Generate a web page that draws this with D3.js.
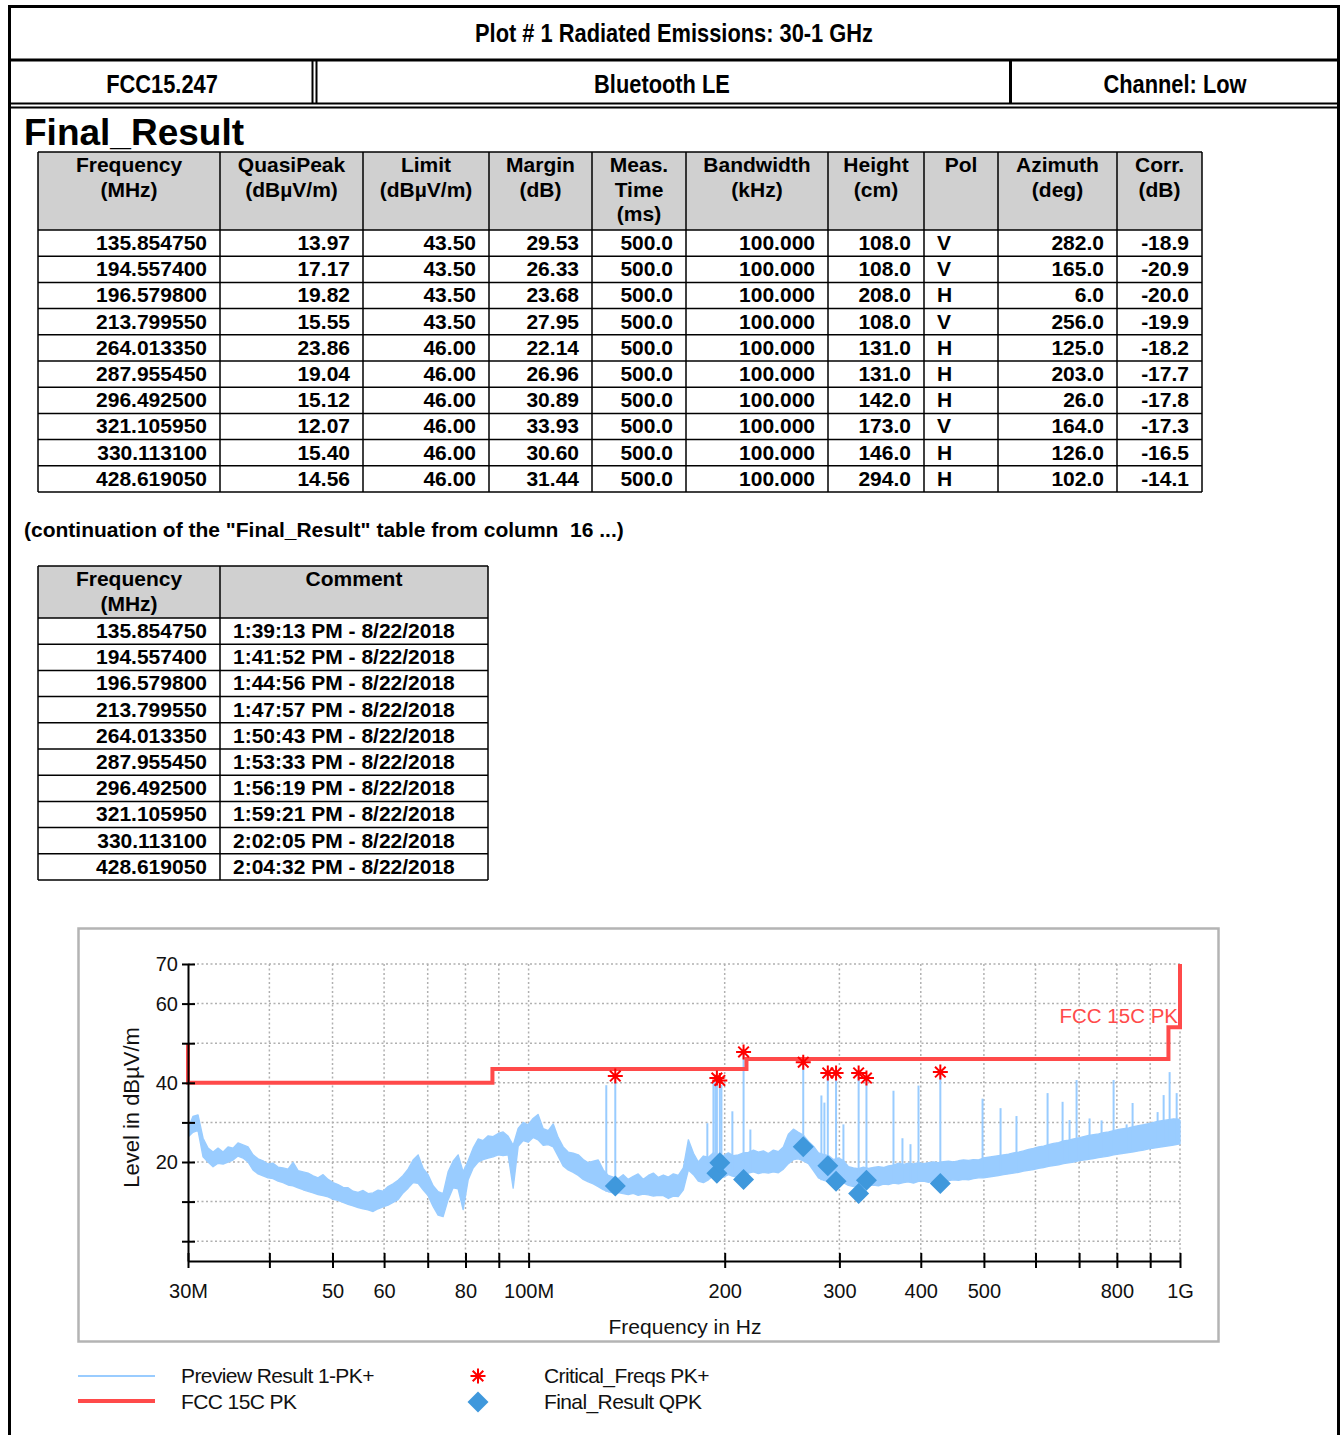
<!DOCTYPE html>
<html>
<head>
<meta charset="utf-8">
<script src="https://cdn.jsdelivr.net/npm/d3@7"></script>
<style>
  html, body { margin: 0; padding: 0; background: #fff; }
  svg { display: block; }
  text { font-family: "Liberation Sans", Arial, sans-serif; }
</style>
</head>
<body>
<svg id="page" width="1341" height="1435"></svg>
<script>
// ---------------- Final_Result table data ----------------
const freqMHz   = [135.85475, 194.5574, 196.5798, 213.79955, 264.01335, 287.95545, 296.4925, 321.10595, 330.1131, 428.61905];
const quasiPeak = [13.97, 17.17, 19.82, 15.55, 23.86, 19.04, 15.12, 12.07, 15.40, 14.56];
const limitQP   = [43.50, 43.50, 43.50, 43.50, 46.00, 46.00, 46.00, 46.00, 46.00, 46.00];
const marginDb  = [29.53, 26.33, 23.68, 27.95, 22.14, 26.96, 30.89, 33.93, 30.60, 31.44];
const measTime  = [500.0, 500.0, 500.0, 500.0, 500.0, 500.0, 500.0, 500.0, 500.0, 500.0];
const bandwidth = [100.000, 100.000, 100.000, 100.000, 100.000, 100.000, 100.000, 100.000, 100.000, 100.000];
const heightCm  = [108.0, 108.0, 208.0, 108.0, 131.0, 131.0, 142.0, 173.0, 146.0, 294.0];
const polarity  = ["V", "V", "H", "V", "H", "H", "H", "V", "H", "H"];
const azimuth   = [282.0, 165.0, 6.0, 256.0, 125.0, 203.0, 26.0, 164.0, 126.0, 102.0];
const corrDb    = [-18.9, -20.9, -20.0, -19.9, -18.2, -17.7, -17.8, -17.3, -16.5, -14.1];
const comments  = ["1:39:13 PM - 8/22/2018", "1:41:52 PM - 8/22/2018", "1:44:56 PM - 8/22/2018",
                   "1:47:57 PM - 8/22/2018", "1:50:43 PM - 8/22/2018", "1:53:33 PM - 8/22/2018",
                   "1:56:19 PM - 8/22/2018", "1:59:21 PM - 8/22/2018", "2:02:05 PM - 8/22/2018",
                   "2:04:32 PM - 8/22/2018"];

// Peak level of each critical frequency (PK+)
const criticalPeak = [41.7, 41.2, 40.6, 47.8, 45.2, 42.5, 42.5, 42.5, 41.2, 42.7];

// FCC 15C PK limit line (MHz, dBµV/m)
const limitFreq  = [30, 30, 88, 88, 216, 216, 960, 960, 1000, 1000];
const limitLevel = [50, 40, 40, 43.5, 43.5, 46, 46, 54, 54, 70];

// Preview scan: [MHz, band low, band high] in dBµV/m
const previewBand = [
  [30.00,26.3,28.5],[30.53,27.5,31.5],[31.08,28.0,31.9],[31.64,21.3,26.0],[32.20,20.0,23.5],
  [32.78,18.8,22.5],[33.36,19.7,23.5],[33.96,19.5,22.5],[34.56,20.0,23.8],[35.18,20.5,23.5],
  [35.80,21.5,24.8],[36.44,21.0,24.3],[37.09,20.0,23.8],[37.75,18.0,21.8],[38.43,17.0,20.8],
  [39.11,16.5,20.3],[39.81,16.0,19.5],[40.52,15.8,19.7],[41.24,15.2,18.7],[41.98,14.8,18.5],
  [42.73,14.2,18.2],[43.49,14.0,19.9],[44.27,13.5,17.8],[45.06,13.0,17.5],[45.86,12.6,17.2],
  [46.68,12.2,16.5],[47.51,11.8,16.0],[48.36,11.5,16.8],[49.22,11.2,15.6],[50.10,10.6,14.8],
  [50.99,10.3,14.3],[51.90,9.8,13.6],[52.83,9.3,13.5],[53.77,8.9,12.6],[54.73,8.5,12.3],
  [55.71,8.2,12.8],[56.70,7.9,12.0],[57.71,7.5,12.2],[58.74,8.2,12.9],[59.79,8.7,12.6],
  [60.85,9.1,13.8],[61.94,9.8,14.5],[63.04,10.5,15.4],[64.17,12.2,16.6],[65.31,13.4,18.2],
  [66.48,14.8,20.5],[67.67,14.6,21.8],[68.87,13.0,18.4],[70.10,11.5,16.8],[71.35,8.8,14.0],
  [72.63,6.6,12.5],[73.92,6.2,12.0],[75.24,10.5,17.5],[76.58,13.5,20.2],[77.95,13.2,21.8],
  [79.34,8.0,17.5],[80.76,15.5,20.3],[82.20,18.5,23.5],[83.66,20.0,25.8],[85.15,20.6,25.4],
  [86.68,21.0,26.6],[88.22,21.3,26.4],[89.80,21.8,27.2],[91.40,21.6,27.6],[93.03,21.8,26.5],
  [94.69,13.4,24.2],[96.38,24.0,28.5],[98.10,25.4,30.0],[99.85,25.0,29.4],[101.6,26.2,31.0],
  [103.4,25.6,32.0],[105.3,24.2,28.4],[107.2,24.4,27.9],[109.1,23.8,29.6],[111.0,21.5,26.2],
  [113.0,19.0,23.8],[115.0,18.0,22.5],[117.1,17.4,22.2],[119.2,16.6,21.8],[121.3,15.6,20.6],
  [123.5,15.0,19.8],[125.7,14.5,20.2],[127.9,13.8,20.5],[130.2,13.0,18.0],[132.5,12.5,16.6],
  [134.9,12.2,16.2],[137.3,12.3,15.8],[139.7,12.0,16.8],[142.2,11.8,15.6],[144.8,12.1,16.4],
  [147.3,11.6,17.0],[150.0,11.9,15.6],[152.7,11.7,16.6],[155.4,11.4,17.2],[158.2,11.6,16.1],
  [161.0,11.5,16.7],[163.9,10.8,16.2],[166.8,11.4,17.0],[169.8,11.3,16.6],[172.8,13.0,18.5],
  [175.9,18.0,25.6],[179.1,16.8,22.2],[182.2,15.2,20.0],[185.5,14.8,21.5],[188.8,15.5,21.2],
  [192.2,16.6,22.3],[195.6,16.8,22.0],[199.1,16.2,21.6],[202.6,16.8,22.3],[206.2,16.4,21.6],
  [209.9,16.1,21.8],[213.7,16.6,22.3],[217.5,17.2,22.4],[221.4,17.5,23.0],[225.3,17.1,22.5],
  [229.3,17.4,22.8],[233.4,17.2,22.1],[237.6,17.5,23.0],[241.8,17.3,22.6],[246.1,18.2,23.8],
  [250.5,19.6,27.0],[255.0,20.6,28.3],[259.5,20.8,27.5],[264.1,20.3,26.8],[268.9,19.6,25.2],
  [273.7,17.8,24.0],[278.6,16.0,22.3],[283.5,15.4,21.9],[288.6,15.2,21.6],[293.7,14.8,20.6],
  [299.0,14.6,21.0],[304.3,14.8,20.4],[309.7,14.1,18.8],[315.3,13.8,18.5],[320.9,14.0,18.3],
  [326.6,13.7,18.7],[332.5,14.0,18.4],[338.4,14.2,18.6],[344.4,14.0,18.8],[350.6,14.4,18.6],
  [356.8,14.3,19.0],[363.2,14.7,19.2],[369.7,14.5,19.7],[376.3,14.8,19.4],[383.0,15.0,19.7],
  [389.8,14.7,19.5],[396.8,15.1,19.8],[403.9,15.2,19.6],[411.0,14.9,19.8],[418.4,15.1,20.0],
  [425.8,15.3,19.8],[433.4,15.0,20.1],[441.2,15.3,20.2],[449.0,15.5,20.0],[457.1,15.4,20.3],
  [465.2,15.6,20.5],[473.5,15.5,20.4],[482.0,15.8,20.6],[490.6,16.0,20.5],[499.3,16.0,21.0],
  [508.2,16.2,21.2],[517.3,16.4,21.4],[526.5,16.6,21.6],[535.9,16.8,21.8],[545.5,17.0,22.0],
  [555.2,17.2,22.3],[565.1,17.4,22.5],[575.2,17.7,22.8],[585.5,17.9,23.2],[595.9,18.1,23.4],
  [606.5,18.4,23.8],[617.3,18.6,24.0],[628.4,18.9,24.4],[639.6,19.1,24.7],[651.0,19.3,24.9],
  [662.6,19.6,25.3],[674.4,19.8,25.5],[686.5,20.0,25.8],[698.7,20.3,26.1],[711.2,20.5,26.4],
  [723.9,20.7,26.7],[736.8,20.9,26.9],[749.9,21.1,27.1],[763.3,21.3,27.4],[776.9,21.5,27.6],
  [790.8,21.8,27.9],[804.9,22.0,28.2],[819.2,22.2,28.4],[833.9,22.4,28.6],[848.7,22.6,28.9],
  [863.9,22.8,29.2],[879.3,23.0,29.4],[895.0,23.3,29.7],[911.0,23.5,30.0],[927.2,23.7,30.3],
  [943.8,23.9,30.5],[960.6,24.1,30.7],[977.7,24.3,30.9],[995.2,24.5,30.8],[1000,24.6,30.5]
];

// Narrow emission spikes in the preview scan: [MHz, peak dBµV/m]
const previewSpikes = [
  [131.6,39.4],[188.1,29.8],[192.2,40.0],[193.5,40.8],[197.7,39.5],[205.5,32.8],[219.0,28.2],
  [281.5,36.8],[284.5,35.0],[304.3,29.5],[363.2,38.0],[374.9,26.0],[385.7,24.5],[396.8,39.3],
  [497.6,36.0],[530.3,33.6],[561.0,31.6],[626.2,37.4],[660.3,35.2],[676.8,30.6],[693.8,40.7],
  [726.4,31.0],[757.9,30.5],[790.8,40.7],[828.0,29.5],[845.7,34.9],[923.9,32.6],[943.8,36.9],
  [964.0,42.7],[988.3,37.4]
];

// Axis ticks
const xTickValues = [30, 40, 50, 60, 70, 80, 90, 100, 200, 300, 400, 500, 600, 700, 800, 900, 1000];
const xTickLabels = new Map([[30, "30M"], [50, "50"], [60, "60"], [80, "80"], [100, "100M"],
                             [200, "200"], [300, "300"], [400, "400"], [500, "500"], [800, "800"], [1000, "1G"]]);
const yTickValues = [0, 10, 20, 30, 40, 50, 60, 70];
const yTickLabels = new Map([[20, "20"], [40, "40"], [60, "60"], [70, "70"]]);

// ---------------- drawing ----------------
const svg = d3.select("#page");
const BOLD = "bold";

// Report frame
const frame = svg.append("g").attr("fill", "none").attr("stroke", "#000");
frame.append("path").attr("d", "M9.5,1435V6.5H1338.5V1435").attr("stroke-width", 3);
frame.append("line").attr("x1", 9.5).attr("x2", 1338.5).attr("y1", 60).attr("y2", 60).attr("stroke-width", 3);
frame.append("line").attr("x1", 9.5).attr("x2", 1338.5).attr("y1", 103.5).attr("y2", 103.5).attr("stroke-width", 2);
frame.append("line").attr("x1", 9.5).attr("x2", 1338.5).attr("y1", 107.5).attr("y2", 107.5).attr("stroke-width", 2);
frame.append("line").attr("x1", 312.5).attr("x2", 312.5).attr("y1", 60).attr("y2", 104).attr("stroke-width", 2);
frame.append("line").attr("x1", 316.5).attr("x2", 316.5).attr("y1", 60).attr("y2", 104).attr("stroke-width", 2);
frame.append("line").attr("x1", 1010.5).attr("x2", 1010.5).attr("y1", 60).attr("y2", 104).attr("stroke-width", 3);

function narrowText(x, y, str, size, sx) {
  svg.append("text")
    .attr("transform", `translate(${x},${y}) scale(${sx},1)`)
    .attr("text-anchor", "middle")
    .attr("font-weight", BOLD)
    .attr("font-size", size)
    .attr("fill", "#000")
    .text(str);
}
narrowText(674, 42, "Plot # 1 Radiated Emissions: 30-1 GHz", 26, 0.84);
narrowText(162, 93, "FCC15.247", 26, 0.84);
narrowText(662, 93, "Bluetooth LE", 26, 0.84);
narrowText(1175, 93, "Channel: Low", 26, 0.84);

svg.append("text").attr("x", 24).attr("y", 145)
  .attr("font-size", 37).attr("font-weight", BOLD).text("Final_Result");

// Generic grid table
function drawTable(edges, top, headH, rowH, headers, rows, aligns) {
  const g = svg.append("g");
  const left = edges[0], right = edges[edges.length - 1];
  const bottom = top + headH + rows.length * rowH;
  g.append("rect").attr("x", left).attr("y", top).attr("width", right - left)
    .attr("height", headH).attr("fill", "#d0d0d0");
  const hy = [top, top + headH].concat(rows.map((r, i) => top + headH + (i + 1) * rowH));
  g.selectAll("line.h").data(hy).join("line")
    .attr("x1", left).attr("x2", right)
    .attr("y1", d => d).attr("y2", d => d)
    .attr("stroke", "#000").attr("stroke-width", 1.5);
  g.selectAll("line.v").data(edges).join("line")
    .attr("x1", d => d).attr("x2", d => d)
    .attr("y1", top).attr("y2", bottom)
    .attr("stroke", "#000").attr("stroke-width", 1.5);
  headers.forEach((lines, c) => {
    const cx = (edges[c] + edges[c + 1]) / 2;
    lines.forEach((t, k) => {
      g.append("text").attr("x", cx).attr("y", top + 20 + k * 24.5)
        .attr("text-anchor", "middle").attr("font-size", 21).attr("font-weight", BOLD).text(t);
    });
  });
  rows.forEach((row, r) => {
    const by = top + headH + r * rowH + 20;
    row.forEach((t, c) => {
      const right = aligns[c] === "right";
      g.append("text")
        .attr("x", right ? edges[c + 1] - 13 : edges[c] + 13)
        .attr("y", by)
        .attr("text-anchor", right ? "end" : "start")
        .attr("font-size", 21).attr("font-weight", BOLD).text(t);
    });
  });
}

const mainHeaders = [["Frequency", "(MHz)"], ["QuasiPeak", "(dBµV/m)"], ["Limit", "(dBµV/m)"],
  ["Margin", "(dB)"], ["Meas.", "Time", "(ms)"], ["Bandwidth", "(kHz)"], ["Height", "(cm)"],
  ["Pol"], ["Azimuth", "(deg)"], ["Corr.", "(dB)"]];
const mainRows = freqMHz.map((f, i) => [
  f.toFixed(6), quasiPeak[i].toFixed(2), limitQP[i].toFixed(2), marginDb[i].toFixed(2),
  measTime[i].toFixed(1), bandwidth[i].toFixed(3), heightCm[i].toFixed(1), polarity[i],
  azimuth[i].toFixed(1), corrDb[i].toFixed(1)]);
drawTable([38, 220, 363, 489, 592, 686, 828, 924, 998, 1117, 1202], 152, 78, 26.2,
  mainHeaders, mainRows,
  ["right", "right", "right", "right", "right", "right", "right", "left", "right", "right"]);

svg.append("text").attr("x", 24).attr("y", 537)
  .attr("font-size", 21).attr("font-weight", BOLD)
  .attr("xml:space", "preserve")
  .text('(continuation of the "Final_Result" table from column  16 ...)');

drawTable([38, 220, 488], 566, 52, 26.2,
  [["Frequency", "(MHz)"], ["Comment"]],
  freqMHz.map((f, i) => [f.toFixed(6), comments[i]]),
  ["right", "left"]);

// ---------------- spectrum chart ----------------
svg.append("rect").attr("x", 78.5).attr("y", 928.5).attr("width", 1140).attr("height", 413)
  .attr("fill", "#fff").attr("stroke", "#b4b4b4").attr("stroke-width", 2.5);

const x = d3.scaleLog().domain([30, 1000]).range([188, 1180]);
const y = d3.scaleLinear().domain([-5, 70]).range([1261, 964]);
const chart = svg.append("g");

// dotted grid
const grid = chart.append("g").attr("stroke", "#b0b0b0").attr("stroke-width", 1.5)
  .attr("stroke-dasharray", "2,2.5");
grid.selectAll("line.gy").data(yTickValues).join("line")
  .attr("x1", x(30)).attr("x2", x(1000))
  .attr("y1", d => y(d)).attr("y2", d => y(d));
grid.selectAll("line.gx").data(xTickValues.filter(v => v > 30)).join("line")
  .attr("x1", d => x(d)).attr("x2", d => x(d))
  .attr("y1", y(70)).attr("y2", y(-5));

const clip = svg.append("clipPath").attr("id", "plotclip");
clip.append("rect").attr("x", x(30)).attr("y", y(70) - 2).attr("width", x(1000) - x(30) + 2)
  .attr("height", y(-5) - y(70) + 2);

const traceColor = "#99ccff";
const traceG = chart.append("g").attr("clip-path", "url(#plotclip)");

// preview scan band
const band = d3.area()
  .x(d => x(d[0])).y0(d => y(d[1])).y1(d => y(d[2]));
traceG.append("path").datum(previewBand)
  .attr("d", band).attr("fill", traceColor)
  .attr("stroke", traceColor).attr("stroke-width", 1.4).attr("stroke-linejoin", "round");

// spikes rise from the band floor at the nearest sample
const bis = d3.bisector(d => d[0]).left;
function baseAt(f) {
  const i = Math.min(previewBand.length - 1, Math.max(0, bis(previewBand, f)));
  return previewBand[i][1];
}
const spikeData = previewSpikes.concat(freqMHz.map((f, i) => [f, criticalPeak[i]]));
traceG.selectAll("line.spike").data(spikeData).join("line")
  .attr("x1", d => x(d[0])).attr("x2", d => x(d[0]))
  .attr("y1", d => y(baseAt(d[0]))).attr("y2", d => y(d[1]))
  .attr("stroke", traceColor).attr("stroke-width", 2);

// limit line
const limitPts = limitFreq.map((f, i) => [f, limitLevel[i]]);
chart.append("path").datum(limitPts)
  .attr("d", d3.line().x(d => x(d[0])).y(d => y(d[1])))
  .attr("fill", "none").attr("stroke", "#ff4a4a").attr("stroke-width", 4);
chart.append("text").attr("x", x(1000) - 2).attr("y", y(54) - 4)
  .attr("text-anchor", "end").attr("font-size", 20.5).attr("fill", "#ff4a4a")
  .text("FCC 15C PK");

// axes
const xAxis = d3.axisBottom(x).tickValues(xTickValues)
  .tickFormat(d => xTickLabels.get(d) || "").tickSizeInner(7).tickSizeOuter(0).tickPadding(16);
const gx = chart.append("g").attr("transform", `translate(0,${y(-5)})`).call(xAxis);
gx.select(".domain").attr("stroke", "#000").attr("stroke-width", 2);
gx.selectAll(".tick line").attr("y1", -8).attr("stroke", "#000").attr("stroke-width", 2);
gx.selectAll(".tick text").attr("font-size", 20).attr("fill", "#111")
  .attr("font-family", '"Liberation Sans", Arial, sans-serif');

const yAxis = d3.axisLeft(y).tickValues(yTickValues)
  .tickFormat(d => yTickLabels.get(d) || "").tickSizeInner(6).tickSizeOuter(0).tickPadding(4);
const gy = chart.append("g").attr("transform", `translate(${x(30)},0)`).call(yAxis);
gy.select(".domain").attr("stroke", "#000").attr("stroke-width", 2);
gy.selectAll(".tick line").attr("x1", 7).attr("stroke", "#000").attr("stroke-width", 2);
gy.selectAll(".tick text").attr("font-size", 20).attr("fill", "#111")
  .attr("font-family", '"Liberation Sans", Arial, sans-serif');

chart.append("text")
  .attr("transform", `translate(139,${(y(70) + y(-5)) / 2 - 5}) rotate(-90)`)
  .attr("text-anchor", "middle").attr("font-size", 22).attr("fill", "#111")
  .text("Level in dBµV/m");
chart.append("text").attr("x", 685).attr("y", 1334)
  .attr("text-anchor", "middle").attr("font-size", 21).attr("fill", "#111")
  .text("Frequency in Hz");

// markers
const diamondPath = "M0,-10.5L10.5,0L0,10.5L-10.5,0Z";
const starPath = "M0,-7.5V7.5M-7.5,0H7.5M-5.3,-5.3L5.3,5.3M-5.3,5.3L5.3,-5.3";
chart.selectAll("path.qp").data(freqMHz).join("path")
  .attr("transform", (f, i) => `translate(${x(f)},${y(quasiPeak[i])})`)
  .attr("d", diamondPath).attr("fill", "#3f98dc");
chart.selectAll("path.crit").data(freqMHz).join("path")
  .attr("transform", (f, i) => `translate(${x(f)},${y(criticalPeak[i])})`)
  .attr("d", starPath).attr("fill", "none").attr("stroke", "#ff0000").attr("stroke-width", 2);

// legend
const lg = svg.append("g");
lg.append("line").attr("x1", 78).attr("x2", 155).attr("y1", 1376).attr("y2", 1376)
  .attr("stroke", traceColor).attr("stroke-width", 2);
lg.append("line").attr("x1", 78).attr("x2", 155).attr("y1", 1401).attr("y2", 1401)
  .attr("stroke", "#ff4a4a").attr("stroke-width", 4);
lg.append("path").attr("transform", "translate(478,1376)").attr("d", starPath)
  .attr("fill", "none").attr("stroke", "#ff0000").attr("stroke-width", 2);
lg.append("path").attr("transform", "translate(478,1402)").attr("d", diamondPath)
  .attr("fill", "#3f98dc");
[["Preview Result 1-PK+", 181, 1383], ["FCC 15C PK", 181, 1409],
 ["Critical_Freqs PK+", 544, 1383], ["Final_Result QPK", 544, 1409]].forEach(([t, tx, ty]) => {
  lg.append("text").attr("x", tx).attr("y", ty).attr("font-size", 21).attr("fill", "#111")
    .attr("letter-spacing", -0.6).text(t);
});
</script>
</body>
</html>
